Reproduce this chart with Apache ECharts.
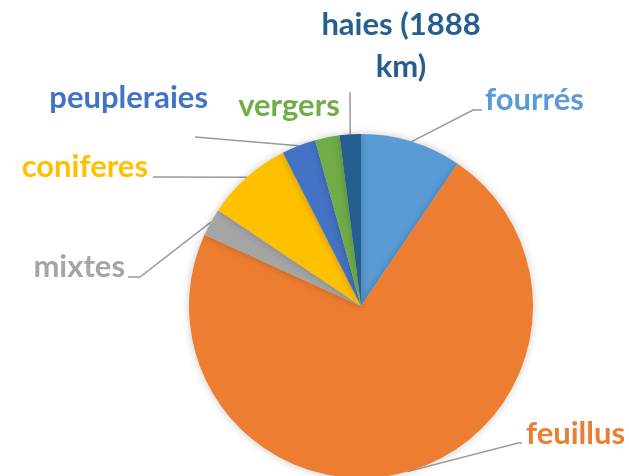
<!DOCTYPE html>
<html>
<head>
<meta charset="utf-8">
<script src="https://cdn.jsdelivr.net/npm/echarts@6/dist/echarts.min.js"></script>
<style>
  html, body { margin: 0; padding: 0; background: #fff; }
  #chart { width: 629px; height: 476px; }
</style>
</head>
<body>
<div id="chart"></div>
<script>
// categories and shares (%), read clockwise from 12 o'clock
var names = ['fourrés', 'feuillus', 'mixtes', 'coniferes', 'peupleraies', 'vergers', 'haies (1888\nkm)']
var values = [9.5, 72.3, 2.6, 8.1, 3.2, 2.3, 2.0]
var colors = ['#5B9BD5', '#ED7D31', '#A5A5A5', '#FFC000', '#4472C4', '#70AD47', '#255E91']

// label placement: [x, y, align, bend point, end point]
var labelPos = [
  [485, 100, 'left', [473, 110], [482, 110]],
  [526, 434, 'left', [518, 443], [522, 443]],
  [125, 267, 'right', [140, 277], [128, 277]],
  [148, 167, 'right', [153, 177], [153, 177]],
  [208, 98, 'right', [195, 137], [195, 137]],
  [289, 106, 'center', null, null],
  [401, 46, 'center', [350, 92], [350, 92]]
]

var chart = echarts.init(document.getElementById('chart'))

var data = names.map(function (n, i) {
  var item = {
    name: n,
    value: values[i],
    itemStyle: { color: colors[i] },
    label: { color: colors[i] }
  }
  if (!labelPos[i][3]) item.labelLine = { show: false }
  return item
})

chart.setOption({
  animation: false,
  series: [{
    type: 'pie',
    center: [361, 306],
    radius: 172,
    startAngle: 90,
    clockwise: true,
    data: data,
    itemStyle: {
      borderWidth: 0,
      shadowBlur: 8,
      shadowColor: 'rgba(0, 0, 0, 0.22)'
    },
    label: {
      show: true,
      position: 'outside',
      overflow: 'none',
      fontFamily: 'Lato',
      fontWeight: 'bold',
      fontSize: 31,
      lineHeight: 42
    },
    labelLine: {
      show: true,
      lineStyle: { color: '#999', width: 1.5 }
    },
    labelLayout: function (params) {
      var p = labelPos[params.dataIndex]
      var res = { x: p[0], y: p[1], align: p[2], verticalAlign: 'middle' }
      if (p[3]) {
        res.labelLinePoints = [params.labelLinePoints[0], p[3], p[4]]
      }
      return res
    },
    emphasis: { disabled: true }
  }]
})
</script>
</body>
</html>
